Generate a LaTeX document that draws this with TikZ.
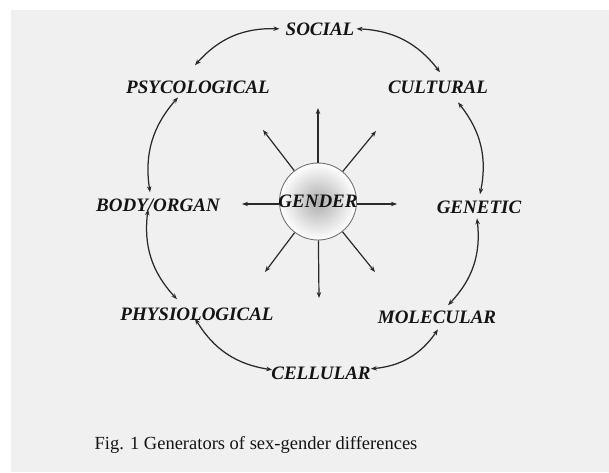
\documentclass[tikz,border=0pt]{standalone}
\usepackage{fontspec}
\setmainfont{Liberation Serif}
\usetikzlibrary{arrows.meta,calc}
\definecolor{bg}{HTML}{F0F0F0}
\definecolor{ink}{HTML}{141414}
\definecolor{wire}{HTML}{2A2A2A}
\begin{document}
\begin{tikzpicture}[x=1pt,y=1pt,
  lbl/.style={anchor=base,inner sep=2pt,text=ink,font=\fontsize{19}{19}\selectfont\bfseries\itshape},
  ring/.style={{Stealth[length=6pt,width=4.5pt]}-{Stealth[length=6pt,width=4.5pt]},draw=wire,line width=1.25pt,bend right=25},
  ray/.style={-{Stealth[length=6pt,width=4.5pt]},draw=wire,line width=1.2pt}]
\useasboundingbox (0,0) rectangle (609,-472);
\fill[white] (0,0) rectangle (609,-472);
\fill[bg] (11,-10) rectangle (609,-472);
% labels
\node[lbl] (soc) at (320,-35) {SOCIAL};
\node[lbl] (psy) at (198,-93) {PSYCOLOGICAL};
\node[lbl] (cul) at (438,-93) {CULTURAL};
\node[lbl] (body) at (158,-211) {BODY/ORGAN};
\node[lbl] (gen) at (479,-213) {GENETIC};
\node[lbl] (phy) at (197,-320) {PHYSIOLOGICAL};
\node[lbl] (mol) at (437,-323) {MOLECULAR};
\node[lbl] (cel) at (321,-379) {CELLULAR};
% gender circle
\node[circle,minimum size=77pt,inner sep=0pt,draw=black!55,line width=0.9pt,inner color=black!32,outer color=white] (gc) at (318,-201.5) {};
% rays
\coordinate (tu) at (318,-108);
\coordinate (tul) at (263,-130);
\coordinate (tur) at (376,-131);
\coordinate (tl) at (242,-204);
\coordinate (tr) at (397,-204);
\coordinate (tdl) at (265,-272);
\coordinate (td) at (319,-298);
\coordinate (tdr) at (375,-272);
\foreach \t in {tu,tul,tur,tdl,td,tdr}{\draw[ray] (gc) -- (\t);}
\draw[ray] (gc.west |- tl) -- (tl);
\draw[ray] (gc.east |- tr) -- (tr);
\node[lbl] (gt) at (318,-207) {GENDER};
% ring arrows (counter-clockwise)
\draw[ring] ($(soc.west)+(-4,0)$) to ($(psy.north)+(-3,13)$);
\draw[ring] ($(psy.south)+(-20,-2)$) to ($(body.north)+(-8,4)$);
\draw[ring] ($(body.south)+(-10,4)$) to ($(phy.north)+(-20,6)$);
\draw[ring] ($(phy.south)+(-2,4)$) to ($(cel.west)+(3,3)$);
\draw[ring] ($(cel.east)+(-2,4)$) to ($(mol.south)+(1,-4)$);
\draw[ring] ($(mol.north)+(11,3)$) to ($(gen.south)+(-2,-3)$);
\draw[ring] ($(gen.north)+(1,4)$) to ($(cul.south)+(20,-7)$);
\draw[ring] ($(cul.north)+(2,6)$) to (soc.east);
% caption
\node[anchor=base,inner sep=0pt,text=ink,font=\fontsize{18.5}{20}\selectfont] (cap) at (256,-449) {Fig. 1 Generators of sex-gender differences};
\end{tikzpicture}
\end{document}
